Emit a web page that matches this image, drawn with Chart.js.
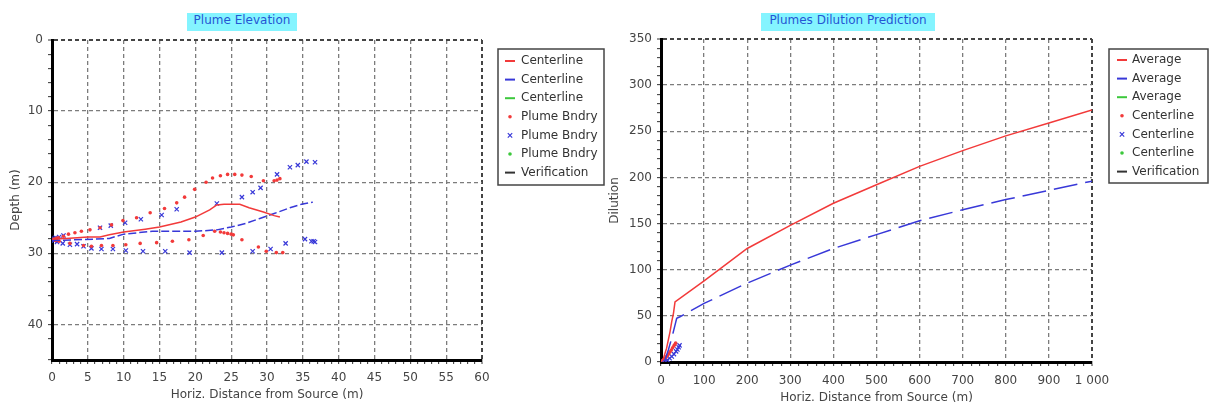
<!DOCTYPE html>
<html>
<head>
<meta charset="utf-8">
<script src="https://cdn.jsdelivr.net/npm/chart.js@4"></script>
<style>
  body { margin: 0; background: #fff; }
  #wrap { position: relative; width: 1209px; height: 403px; overflow: hidden; }
  .pane { position: absolute; top: 0; height: 403px; }
  .ttl { position: absolute; top: 13px; height: 18px; line-height: 18px; text-align: center;
         font: 12px "DejaVu Sans", sans-serif; color: #2456d4; background: #84f4ff; z-index: 2; }
</style>
</head>
<body>
<div id="wrap">
  <div class="ttl" style="left:187px;width:110px">Plume Elevation</div>
  <div class="ttl" style="left:761px;width:174px">Plumes Dilution Prediction</div>
  <div class="pane" style="left:0;width:605px"><canvas id="elev"></canvas></div>
  <div class="pane" style="left:605px;width:604px"><canvas id="dil"></canvas></div>
</div>
<script>
// Plume elevation: [horiz. distance (m), depth (m)]
const elevCenterRed = [[0,28],[2,27.9],[5,27.7],[6.7,27.7],[8,27.4],[10,27.0],[13,26.6],[15,26.3],[18,25.6],[20,24.9],[22,23.9],[23,23.2],[24,23.1],[26.2,23.1],[27.5,23.6],[29.5,24.2],[31,24.7],[31.8,24.9]];
const elevCenterBlue = [[0,28.2],[3,28.1],[6,28.0],[8,27.9],[10,27.3],[14,26.9],[18,26.9],[20,26.9],[23,26.7],[25,26.3],[27,25.8],[29,25.1],[31,24.4],[33.2,23.6],[34.8,23.1],[36.4,22.8]];
const elevBndryRed = [[0.3,28.0],[0.6,27.9],[0.9,27.8],[1.6,27.6],[2.3,27.3],[3.2,27.1],[4.1,26.9],[5.3,26.7],[6.7,26.4],[8.3,26.0],[9.9,25.4],[11.8,25.0],[13.7,24.3],[15.7,23.7],[17.4,22.9],[18.5,22.1],[19.9,21.0],[21.5,20.0],[22.4,19.4],[23.5,19.1],[24.5,18.9],[25.5,18.9],[26.5,19.0],[27.8,19.2],[29.5,19.8],[31.0,19.8],[31.4,19.7],[31.8,19.5],
  [0.5,28.2],[1.0,28.3],[2.5,28.6],[4.4,28.9],[5.5,29.0],[6.9,28.9],[8.5,28.9],[10.3,28.8],[12.3,28.6],[14.6,28.5],[16.8,28.3],[19.1,28.1],[21.1,27.5],[22.7,26.9],[23.5,27.0],[24.0,27.1],[24.5,27.2],[25.0,27.3],[25.3,27.4],[26.5,28.1],[28.8,29.1],[29.9,29.7],[31.3,29.9],[32.2,29.9]];
const elevBndryBlue = [[0.2,27.9],[0.5,27.8],[1.0,27.7],[1.6,27.5],[6.7,26.4],[8.2,26.1],[10.2,25.7],[12.4,25.2],[15.3,24.6],[17.4,23.8],[23,23.0],[26.5,22.1],[28,21.4],[29.1,20.8],[31.4,18.9],[33.2,17.9],[34.3,17.6],[35.5,17.1],[36.7,17.2],
  [0.3,28.2],[0.7,28.4],[1.5,28.6],[2.5,28.8],[3.5,28.7],[4.4,29.0],[5.5,29.3],[6.9,29.4],[8.5,29.4],[10.3,29.6],[12.7,29.7],[15.8,29.7],[19.2,29.9],[23.7,29.9],[28,29.7],[30.5,29.4],[32.6,28.6],[35.3,28.0],[36.2,28.3],[36.5,28.3],[36.7,28.4]];

// Dilution prediction: [horiz. distance (m), dilution]
const dilAvgRed = [[0,0],[5,3],[13,15],[21,33],[25,44],[29,53],[32.5,65],[100,88],[200,123],[300,148],[400,172],[500,192],[600,212],[700,229],[800,245],[900,259],[1000,273]];
const dilAvgBlue = [[0,0],[9,2],[17,13],[25,26],[32.5,40],[36.4,47.3],[44,49],[100,63.5],[200,85.5],[300,105],[400,123],[500,138],[600,153],[700,165],[800,176],[900,186],[1000,196]];
const dilCenterRed = [[3,1],[6,2.5],[9,4],[12,5.5],[15,7],[18,9],[21,11],[24,13],[27,15.5],[30,17.5],[32,19],[34,20.5]];
const dilCenterBlue = [[5,0.5],[10,1],[15,2],[20,4],[25,6],[30,8.5],[35,11.5],[38,13.5],[41,16],[43,18]];

const RED = '#f23a3a', BLUE = '#3838d8', GREEN = '#3cc83c', BLACK = '#333';
const FONT = { family: '"DejaVu Sans", sans-serif', size: 12 };

const pts = a => a.map(p => ({ x: p[0], y: p[1] }));
const lineSet = (label, data, color, dash) => ({
  label, data: pts(data), showLine: true, borderColor: color, backgroundColor: color,
  borderWidth: 1.5, borderDash: dash, pointRadius: 0, tension: 0
});
const markSet = (label, data, color, style) => ({
  label, data: pts(data), showLine: false, pointStyle: style,
  pointRadius: style === 'crossRot' ? 3 : 1.8, borderWidth: style === 'crossRot' ? 1.2 : 0,
  borderColor: color, backgroundColor: color
});

// legend in a framed box to the right of the plot
const boxLegend = {
  id: 'boxLegend',
  afterDraw(chart, args, o) {
    const { ctx, chartArea } = chart;
    const x0 = chartArea.right + o.left, y0 = o.top;
    ctx.save();
    ctx.fillStyle = '#fff';
    ctx.fillRect(x0, y0, o.width, o.height);
    ctx.strokeStyle = '#444';
    ctx.lineWidth = 1.5;
    ctx.strokeRect(x0, y0, o.width, o.height);
    ctx.font = '12px "DejaVu Sans", sans-serif';
    ctx.textBaseline = 'middle';
    chart.data.datasets.forEach((ds, i) => {
      const cy = y0 + o.firstRow + i * o.rowStep;
      const sx = x0 + o.symbolX;
      ctx.strokeStyle = ds.borderColor;
      ctx.fillStyle = ds.borderColor;
      if (ds.showLine) {
        ctx.lineWidth = 2;
        ctx.beginPath(); ctx.moveTo(sx - 5, cy); ctx.lineTo(sx + 5, cy); ctx.stroke();
      } else if (ds.pointStyle === 'crossRot') {
        ctx.lineWidth = 1.2;
        ctx.beginPath();
        ctx.moveTo(sx - 2.2, cy - 2.2); ctx.lineTo(sx + 2.2, cy + 2.2);
        ctx.moveTo(sx + 2.2, cy - 2.2); ctx.lineTo(sx - 2.2, cy + 2.2);
        ctx.stroke();
      } else {
        ctx.beginPath(); ctx.arc(sx, cy, 1.8, 0, Math.PI * 2); ctx.fill();
      }
      ctx.fillStyle = '#333';
      ctx.fillText(ds.label, x0 + o.textX, cy);
    });
    ctx.restore();
  }
};

function axis(opts) {
  const { min, max, step, major, edge, labelFn, reverse, title, titlePad, fitSize, horizontal, tickPad } = opts;
  return {
    type: 'linear', min, max, reverse: !!reverse,
    ticks: {
      stepSize: step, autoSkip: false, maxRotation: 0, color: '#444', font: FONT,
      padding: tickPad,
      callback: v => (v % major === 0 ? labelFn(v) : '')
    },
    grid: {
      color: c => (c.tick && c.tick.value === edge ? '#444' : (c.tick && c.tick.value % major === 0 ? '#7c7c7c' : 'rgba(0,0,0,0)')),
      lineWidth: c => (c.tick && c.tick.value === edge ? 2 : 1.3),
      tickColor: '#333', tickLength: 4, tickWidth: 1
    },
    border: { color: '#000', width: 3, dash: [4, 3] },
    title: { display: true, text: title, color: '#444', font: FONT, padding: titlePad },
    afterFit: s => { if (horizontal) s.height = fitSize; else s.width = fitSize; }
  };
}

new Chart(document.getElementById('elev'), {
  type: 'scatter',
  data: {
    datasets: [
      lineSet('Centerline', elevCenterRed, RED, []),
      lineSet('Centerline', elevCenterBlue, BLUE, [8, 3]),
      lineSet('Centerline', [], GREEN, []),
      markSet('Plume Bndry', elevBndryRed, RED, 'circle'),
      markSet('Plume Bndry', elevBndryBlue, BLUE, 'crossRot'),
      markSet('Plume Bndry', [], GREEN, 'circle'),
      lineSet('Verification', [], BLACK, [])
    ]
  },
  options: {
    responsive: true, maintainAspectRatio: false, animation: false,
    layout: { padding: { left: 0, top: 40, right: 123, bottom: 0 } },
    scales: {
      x: axis({ min: 0, max: 60, step: 1, major: 5, edge: 60, labelFn: v => v, horizontal: true, tickPad: 7,
                title: 'Horiz. Distance from Source (m)', titlePad: { top: 0, bottom: 1 }, fitSize: 43 }),
      y: axis({ min: 0, max: 45, step: 2, major: 10, edge: 0, labelFn: v => v, reverse: true, tickPad: 5,
                title: 'Depth (m)', titlePad: { top: 9, bottom: 0 }, fitSize: 52 })
    },
    plugins: {
      legend: { display: false },
      tooltip: { enabled: false },
      boxLegend: { left: 16, top: 49, width: 106, height: 136, firstRow: 12, rowStep: 18.6, symbolX: 12, textX: 23 }
    }
  },
  plugins: [boxLegend]
});

new Chart(document.getElementById('dil'), {
  type: 'scatter',
  data: {
    datasets: [
      lineSet('Average', dilAvgRed, RED, []),
      lineSet('Average', dilAvgBlue, BLUE, [24, 8]),
      lineSet('Average', [], GREEN, []),
      markSet('Centerline', dilCenterRed, RED, 'circle'),
      markSet('Centerline', dilCenterBlue, BLUE, 'crossRot'),
      markSet('Centerline', [], GREEN, 'circle'),
      lineSet('Verification', [], BLACK, [])
    ]
  },
  options: {
    responsive: true, maintainAspectRatio: false, animation: false,
    layout: { padding: { left: 0, top: 39, right: 117, bottom: 0 } },
    scales: {
      x: axis({ min: 0, max: 1000, step: 20, major: 100, edge: 1000, labelFn: v => (v === 1000 ? '1 000' : v), horizontal: true, tickPad: 8,
                title: 'Horiz. Distance from Source (m)', titlePad: { top: 0, bottom: -2 }, fitSize: 41 }),
      y: axis({ min: 0, max: 350, step: 10, major: 50, edge: 350, labelFn: v => v, tickPad: 5,
                title: 'Dilution', titlePad: { top: 3, bottom: 0 }, fitSize: 56 })
    },
    plugins: {
      legend: { display: false },
      tooltip: { enabled: false },
      boxLegend: { left: 17, top: 49, width: 99, height: 134, firstRow: 11, rowStep: 18.6, symbolX: 13, textX: 23 }
    }
  },
  plugins: [boxLegend]
});
</script>
</body>
</html>
